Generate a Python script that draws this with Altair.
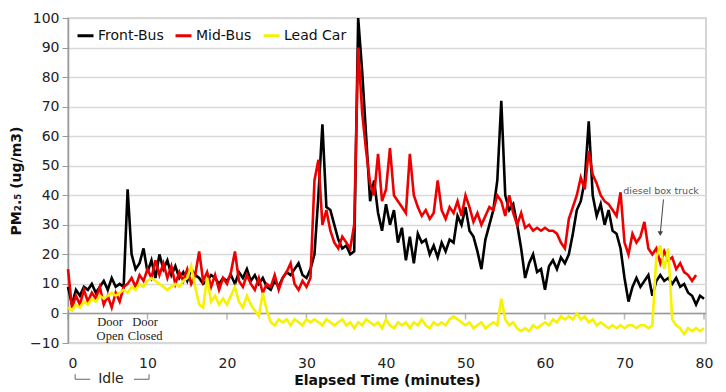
import altair as alt
import pandas as pd

# time grid (minutes), sampled every half minute
time = [i * 0.5 for i in range(161)]

front_bus = [
    9, 3, 8, 6, 9, 8, 10, 7, 9, 11, 8, 12, 9, 10, 9, 42, 20, 15, 17, 22,
    14, 18, 12, 20, 15, 18, 13, 16, 12, 14, 11, 15, 13, 12, 10, 11, 13, 12, 10, 12,
    11, 13, 10, 14, 12, 15, 11, 13, 10, 12, 9, 8, 11, 9, 12, 14, 13, 15, 17, 13,
    12, 15, 20, 40, 64, 36, 35, 30, 25, 22, 23, 20, 21, 100, 82, 60, 38, 45, 34, 28,
    37, 30, 35, 24, 29, 18, 26, 17, 27, 24, 25, 20, 23, 19, 24, 21, 25, 24, 33, 30,
    36, 28, 26, 21, 15, 25, 30, 35, 45, 72, 40, 35, 37, 30, 22, 12, 17, 20, 14, 15,
    8, 16, 18, 15, 19, 17, 20, 27, 35, 38, 45, 65, 40, 33, 37, 30, 35, 28, 27, 22,
    12, 4, 9, 12, 9, 11, 13, 6, 11, 13, 11, 12, 10, 12, 9, 10, 7, 6, 3, 6,
    5,
]

mid_bus = [
    15, 2, 6, 3, 8, 4, 7, 5, 9, 3, 6, 2, 7, 4, 9, 10, 12, 9, 13, 11,
    15, 12, 18, 13, 17, 12, 16, 10, 14, 11, 15, 10, 13, 21, 11, 14, 9, 13, 8, 12,
    10, 14, 21, 11, 9, 13, 10, 8, 12, 7, 10, 9, 13, 8, 12, 14, 17, 10, 8, 11,
    9, 12, 45, 52, 30, 35, 28, 24, 22, 26, 24, 22, 30, 90, 68, 55, 44, 40, 54, 38,
    42, 56, 40, 38, 36, 34, 54, 40, 36, 33, 35, 32, 34, 45, 35, 32, 36, 34, 38, 33,
    40, 36, 31, 34, 30, 33, 36, 35, 40, 38, 33, 40, 34, 30, 34, 29, 30, 28, 29, 28,
    29, 28, 28, 27, 24, 22, 32, 36, 40, 46, 42, 55, 47, 44, 40, 38, 37, 35, 33, 41,
    24, 20, 27, 24, 26, 31, 22, 20, 22, 17, 21, 18, 19, 15, 17, 14, 13, 11, 13, None,
    None,
]

lead_car = [
    2, 1, 3, 2, 4, 3, 5, 4, 6, 5, 6, 7, 6, 7, 8, 7, 9, 8, 10, 9,
    11, 12, 11, 10, 9, 8, 9, 10, 9, 11, 12, 16, 9, 3, 2, 12, 4, 6, 3, 5,
    3, 6, 9, 4, 2, 6, 3, 1, -1, 7, 1, -3, -4, -2, -3, -2, -4, -2, -3, -4,
    -2, -3, -2, -3, -4, -2, -3, -4, -3, -2, -4, -3, -5, -3, -4, -2, -3, -4, -3, -5,
    -2, -4, -5, -3, -4, -3, -5, -3, -4, -2, -4, -5, -3, -4, -3, -4, -2, -1, -2, -3,
    -4, -3, -5, -4, -3, -5, -4, -3, -4, 5, -2, -4, -3, -5, -6, -5, -6, -4, -5, -4,
    -3, -4, -2, -3, -1, -2, -1, -2, 0, -2, -1, -3, -2, -4, -3, -4, -5, -4, -5, -4,
    -5, -4, -4, -5, -4, -4, -5, -4, 19, 23, 15, 22, -2, -4, -5, -7, -5, -6, -5, -6,
    -5,
]

series_names = ["Front-Bus", "Mid-Bus", "Lead Car"]
series_colors = ["#000000", "#ee0000", "#f7f200"]

x_ticks = [0, 10, 20, 30, 40, 50, 60, 70, 80]
y_ticks = [-10, 0, 10, 20, 30, 40, 50, 60, 70, 80, 90, 100]

# annotations
door_text = ["Door\nOpen", "Door\nClosed"]
door_x = [5.3, 9.7]
door_y = [-3.0, -3.0]
idle_label = ["Idle"]
idle_x = [5.4]
idle_y = [-22.3]
bracket_x = [0.9, 2.8, 8.3, 10.2]
bracket_y = -22.3
bracket_hook = -20.6
truck_label = ["diesel box truck"]
truck_x = [74.6]
truck_y = [41.6]
arrow_x = [74.9, 74.5]
arrow_y = [38.6, 27.0]

frames = []
for name, vals in zip(series_names, [front_bus, mid_bus, lead_car]):
    df = pd.DataFrame({"t": time, "v": vals})
    df["series"] = name
    df = df.dropna()
    frames.append(df)

x_scale = alt.Scale(domain=[0, 80.25], nice=False, zero=False)
y_scale = alt.Scale(domain=[-10, 100], nice=False, zero=False)
color_scale = alt.Scale(domain=series_names, range=series_colors)

FONT = "DejaVu Sans"

x_axis = alt.Axis(values=x_ticks, title="Elapsed Time (minutes)", grid=False,
                  domain=False, ticks=False, labelPadding=13, labelFontSize=14,
                  labelFont=FONT, labelColor="#222", labelOverlap=False,
                  titleFont=FONT, titleFontSize=14,
                  titleFontWeight="bold", titlePadding=3, titleColor="#111")
y_axis = alt.Axis(values=y_ticks, title="PM₂.₅ (ug/m3)", grid=True, gridColor="#d9d9d9",
                  gridWidth=1.5, domainColor="#999", domainWidth=1.5, tickColor="#999",
                  tickSize=6, labelFontSize=14, labelFont=FONT, labelColor="#222",
                  labelOverlap=False, labelPadding=3, titleFont=FONT, titleFontSize=14,
                  titleFontWeight="bold", titlePadding=6, titleColor="#111")


def X(field):
    return alt.X(field, scale=x_scale, axis=x_axis)


def Y(field):
    return alt.Y(field, scale=y_scale, axis=y_axis)


lines = []
for i, df in enumerate(frames):
    ch = alt.Chart(df).mark_line(strokeWidth=2.6, strokeJoin="miter").encode(
        x=X("t:Q"),
        y=Y("v:Q"),
        color=alt.Color(
            "series:N", scale=color_scale, sort=series_names,
            legend=alt.Legend(title=None, orient="none", legendX=8, legendY=8,
                              direction="horizontal", symbolType="stroke",
                              symbolStrokeWidth=3, symbolSize=256, labelFontSize=14,
                              labelFont=FONT, labelColor="#111", columnPadding=5,
                              labelOffset=3, padding=0),
        ),
    )
    lines.append(ch)

# x axis line at zero with ticks
zero_df = pd.DataFrame({"x0": [0], "x1": [80.25], "y": [0]})
zero_rule = alt.Chart(zero_df).mark_rule(color="#999", strokeWidth=1.5).encode(
    x=X("x0:Q"), x2="x1:Q", y=Y("y:Q"))
tick_df = pd.DataFrame({"x": x_ticks, "y": [0] * len(x_ticks)})
xticks = alt.Chart(tick_df).mark_tick(color="#999", orient="vertical", size=6,
                                      thickness=1.5, yOffset=3).encode(
    x=X("x:Q"), y=Y("y:Q"))

door_df = pd.DataFrame({"x": door_x, "y": door_y, "txt": door_text})
doors = alt.Chart(door_df).mark_text(font="Liberation Serif", fontSize=12.5, color="#222",
                                     lineBreak="\n", lineHeight=14, baseline="middle",
                                     align="center").encode(
    x=X("x:Q"), y=Y("y:Q"), text="txt:N")

idle_df = pd.DataFrame({"x": idle_x, "y": idle_y, "txt": idle_label})
idle = alt.Chart(idle_df).mark_text(font=FONT, fontSize=14, color="#222",
                                    baseline="middle", align="center").encode(
    x=X("x:Q"), y=Y("y:Q"), text="txt:N")

br_df = pd.DataFrame({
    "x": [bracket_x[0], bracket_x[0], bracket_x[3], bracket_x[2]],
    "x2": [bracket_x[1], bracket_x[0], bracket_x[3], bracket_x[3]],
    "y": [bracket_y, bracket_hook, bracket_hook, bracket_y],
    "y2": [bracket_y, bracket_y, bracket_y, bracket_y],
})
brackets = alt.Chart(br_df).mark_rule(color="#888", strokeWidth=1.3).encode(
    x=X("x:Q"), x2="x2:Q", y=Y("y:Q"), y2="y2:Q")

truck_df = pd.DataFrame({"x": truck_x, "y": truck_y, "txt": truck_label})
truck = alt.Chart(truck_df).mark_text(font=FONT, fontSize=9.5, color="#555",
                                      baseline="middle", align="center").encode(
    x=X("x:Q"), y=Y("y:Q"), text="txt:N")

arrow_df = pd.DataFrame({"x": [arrow_x[0]], "x2": [arrow_x[1]],
                         "y": [arrow_y[0]], "y2": [arrow_y[1]]})
arrow_line = alt.Chart(arrow_df).mark_rule(color="#444", strokeWidth=1).encode(
    x=X("x:Q"), x2="x2:Q", y=Y("y:Q"), y2="y2:Q")
head_df = pd.DataFrame({"x": [arrow_x[1]], "y": [arrow_y[1]]})
arrow_head = alt.Chart(head_df).mark_point(shape="triangle-down", filled=True,
                                           color="#444", size=30, opacity=1).encode(
    x=X("x:Q"), y=Y("y:Q"))

chart = alt.layer(
    zero_rule, xticks, *lines, doors, idle, brackets, truck, arrow_line, arrow_head
).properties(
    width=638, height=325,
    autosize=alt.AutoSizeParams(type="none"),
    padding={"left": 68, "top": 18, "right": 20, "bottom": 49},
    background="white",
).configure_view(stroke="#c8c8c8", strokeWidth=1.5).configure_axis(
    labelOverlap=False
).resolve_scale(color="shared")

chart.save("out.html", embed_options={"renderer": "svg", "actions": False})
